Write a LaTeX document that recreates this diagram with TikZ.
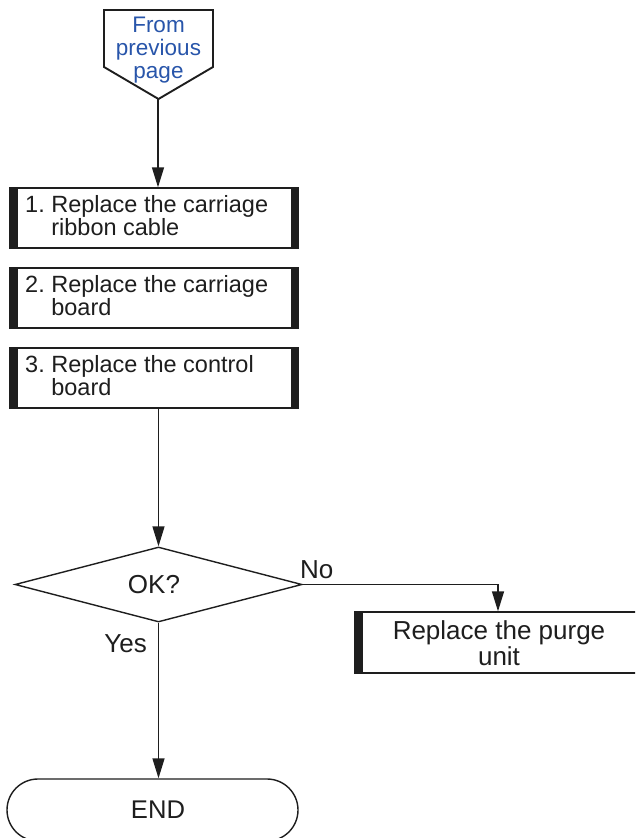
\documentclass[tikz,border=0pt]{standalone}
\usepackage{fontspec}
\setmainfont{Liberation Sans}
\usetikzlibrary{arrows.meta,shapes.geometric,shapes.misc}
\definecolor{ink}{RGB}{30,30,30}
\definecolor{fromblue}{RGB}{40,85,170}
\begin{document}
\frenchspacing
\begin{tikzpicture}[x=1pt,y=-1pt,
  line/.style={draw=ink,line width=1.4pt},
  arr/.style={line,-{Triangle[length=20pt,width=12pt]}},
  stepbox/.style={draw=ink,line width=1.4pt,minimum width=288pt,minimum height=60pt,inner sep=0pt,
    path picture={\fill[ink] (path picture bounding box.north west) rectangle ([xshift=7.5pt]path picture bounding box.south west);
                  \fill[ink] (path picture bounding box.north east) rectangle ([xshift=-7.5pt]path picture bounding box.south east);}},
  boxtext/.style={font=\fontsize{23.5pt}{23pt}\selectfont,text=ink,align=left,inner sep=0pt,anchor=base west},
  bigtext/.style={font=\fontsize{26pt}{23pt}\selectfont,text=ink,inner sep=0pt},
  fromtext/.style={font=\fontsize{22.5pt}{23pt}\selectfont,text=fromblue,align=center,inner sep=0pt,anchor=base},
  decision/.style={diamond,draw=ink,line width=1.4pt,minimum width=287pt,minimum height=75pt,inner sep=0pt,aspect=3.8,
    font=\fontsize{26pt}{23pt}\selectfont,text=ink},
  endbox/.style={rounded rectangle,draw=ink,line width=1.4pt,minimum width=291pt,minimum height=62pt,inner sep=0pt,
    font=\fontsize{25.6pt}{23pt}\selectfont,text=ink},
]
\useasboundingbox (0,0) rectangle (635,838);
\clip (0,0) rectangle (635,838);
\fill[white] (0,0) rectangle (635,838);

% start connector from previous page
\draw[ink,line width=1.9pt,line join=miter] (104,10) -- (213,10) -- (213,67) -- (158.5,99) -- (104,67) -- cycle;
\coordinate (ptip) at (158,99);
\node[fromtext] (from) at (158.5,78) {From\\previous\\page};

% steps
\node[stepbox] (b1) at (154,218) {};
\node[boxtext] (t1) at (25,235) {1. Replace the carriage\\\phantom{1.}\ ribbon cable};
\node[stepbox] (b2) at (154,298) {};
\node[boxtext] (t2) at (25,315) {2. Replace the carriage\\\phantom{2.}\ board};
\node[stepbox] (b3) at (154,378) {};
\node[boxtext] (t3) at (25,395) {3. Replace the control\\\phantom{3.}\ board};

% decision
\node[decision] (dia) at (158.5,584.5) {\hspace*{-9pt}OK?};
\node[bigtext,anchor=base west] (no) at (300,578) {No};
\node[bigtext,anchor=base east] (yes) at (147,652) {Yes};

% purge
\node[stepbox,minimum height=61pt] (pu) at (499,642.5) {};
\node[bigtext,align=center,anchor=base] (tp) at (499,665) {Replace the purge\\unit};

% end
\node[endbox] (endn) at (152.5,810) {\hspace*{11pt}END};

% connectors
\draw[arr] (ptip) -- (ptip |- b1.north);
\draw[arr] (b3.south -| dia.north) -- (dia.north);
\draw[arr] (dia.east) -| ([xshift=-1pt]pu.north);
\draw[arr] (dia.south) -- (dia.south |- endn.north);
\end{tikzpicture}
\end{document}
